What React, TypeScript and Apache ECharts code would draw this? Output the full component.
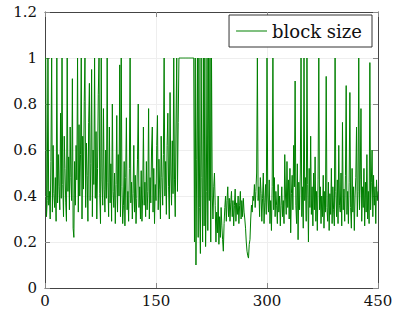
import React, { useEffect, useRef } from "react";
import * as echarts from "echarts";

const seriesName = "block size";
const xTicks = [0, 150, 300, 450];
const yTicks = [0, 0.2, 0.4, 0.6, 0.8, 1, 1.2];

// block size value at x = 0, 1, 2, ... 450
const blockSize = [
  1.0, 1.0, 0.31, 0.38, 1.0, 0.36, 0.42, 0.30, 0.55, 1.0,
  0.33, 0.62, 0.41, 0.35, 0.48, 0.29, 1.0, 0.37, 0.58, 0.44,
  0.34, 0.76, 0.39, 1.0, 0.45, 0.31, 0.66, 0.52, 0.37, 0.29,
  1.0, 0.42, 0.57, 0.34, 0.70, 0.48, 0.38, 0.91, 0.26, 0.22,
  0.55, 0.36, 0.62, 0.47, 1.0, 0.33, 0.71, 0.40, 0.58, 1.0,
  0.30, 0.66, 0.43, 0.81, 1.0, 0.35, 0.63, 0.49, 0.29, 0.72,
  0.89, 0.38, 0.54, 0.95, 0.31, 0.60, 0.45, 1.0, 0.39, 0.68,
  0.30, 0.52, 0.84, 1.0, 0.41, 0.28, 1.0, 0.47, 0.36, 0.78,
  0.43, 0.33, 0.60, 0.39, 1.0, 0.46, 0.31, 0.70, 0.37, 0.54,
  0.29, 0.80, 0.42, 0.35, 0.50, 0.28, 0.45, 0.75, 0.33, 0.58,
  0.40, 0.97, 0.31, 1.0, 0.44, 0.28, 0.36, 0.55, 0.27, 0.48,
  0.74, 0.34, 0.42, 0.29, 0.52, 1.0, 0.37, 0.46, 0.30, 0.41,
  0.62, 0.33, 0.49, 0.28, 0.39, 0.56, 0.80, 0.35, 0.44, 0.30,
  0.51, 0.29, 0.40, 0.70, 0.36, 0.46, 0.31, 0.55, 0.34, 0.42,
  0.78, 0.30, 0.48, 0.37, 0.60, 0.70, 0.33, 0.52, 0.28, 0.45,
  0.38, 0.62, 0.75, 0.34, 0.56, 0.43, 0.30, 0.66, 0.48, 0.36,
  0.58, 1.0, 0.40, 0.55, 0.32, 0.62, 0.76, 0.44, 0.30, 0.85,
  0.50, 0.36, 0.64, 0.41, 1.0, 0.47, 0.31, 0.70, 1.0, 0.42,
  0.72, 1.0, 1.0, 1.0, 1.0, 1.0, 1.0, 1.0, 1.0, 1.0,
  1.0, 1.0, 1.0, 1.0, 1.0, 1.0, 1.0, 1.0, 1.0, 1.0,
  1.0, 1.0, 0.20, 1.0, 0.10, 0.56, 1.0, 0.22, 1.0, 0.35,
  0.15, 1.0, 0.48, 0.20, 1.0, 0.27, 1.0, 0.18, 0.42, 1.0,
  0.25, 1.0, 0.38, 1.0, 0.20, 1.0, 0.40, 0.30, 0.44, 0.50,
  0.36, 0.20, 0.33, 0.24, 0.40, 0.19, 0.31, 0.22, 0.35, 0.27,
  0.21, 0.16, 0.28, 0.35, 0.40, 0.29, 0.38, 0.44, 0.31, 0.39,
  0.29, 0.37, 0.42, 0.31, 0.38, 0.27, 0.36, 0.43, 0.29, 0.37,
  0.32, 0.40, 0.28, 0.36, 0.42, 0.30, 0.38, 0.31, 0.39, 0.33,
  0.30, 0.26, 0.20, 0.16, 0.14, 0.13, 0.19, 0.21, 0.30, 0.36,
  0.33, 0.40, 0.38, 0.45, 0.35, 0.42, 0.50, 1.0, 0.38, 0.44,
  0.31, 0.48, 0.41, 0.29, 0.39, 0.50, 0.28, 0.37, 0.45, 0.32,
  1.0, 0.40, 0.33, 0.47, 0.28, 0.38, 0.25, 0.44, 1.0, 0.34,
  0.48, 0.31, 0.42, 0.36, 0.28, 0.45, 0.33, 0.40, 0.27, 0.36,
  0.44, 0.31, 0.38, 0.28, 0.58, 0.40, 0.32, 0.55, 0.35, 0.47,
  0.30, 0.52, 0.24, 0.41, 0.49, 0.34, 0.62, 0.44, 0.90, 0.36,
  0.28, 0.54, 0.21, 0.46, 0.34, 0.50, 1.0, 0.31, 0.44, 0.26,
  1.0, 0.38, 0.48, 0.29, 1.0, 0.45, 0.20, 0.52, 0.35, 0.66,
  0.32, 0.44, 0.27, 0.50, 0.34, 0.57, 0.29, 0.42, 0.25, 0.47,
  1.0, 0.34, 0.44, 0.28, 0.40, 0.31, 0.49, 0.26, 0.42, 0.33,
  0.92, 0.35, 0.29, 0.46, 0.25, 0.41, 0.32, 0.52, 0.28, 0.44,
  0.34, 0.27, 1.0, 0.42, 0.31, 0.47, 0.28, 0.62, 0.36, 0.33,
  0.50, 0.27, 0.72, 0.34, 0.43, 0.29, 0.49, 0.88, 0.32, 0.42,
  0.28, 0.46, 0.85, 0.35, 0.26, 0.52, 0.33, 0.44, 0.25, 0.40,
  0.48, 0.70, 0.31, 0.42, 1.0, 0.34, 0.47, 0.78, 0.29, 0.44,
  0.35, 0.52, 0.27, 0.46, 0.33, 0.58, 0.30, 0.42, 0.28, 0.98,
  0.34, 0.46, 0.60, 0.31, 0.49, 0.36, 0.44, 0.28, 0.47, 0.38,
  0.42,
];

const FONT = "DejaVu Serif";

export default function App() {
  const ref = useRef<HTMLDivElement>(null);
  useEffect(() => {
    if (!ref.current) return;
    const chart = echarts.init(ref.current, null, { renderer: "svg" });
    const points = blockSize.map((v, i) => [i, v]);
    const xMin = xTicks[0];
    const xMax = xTicks[xTicks.length - 1];
    const xInt = xTicks[1] - xTicks[0];
    const yMin = yTicks[0];
    const yMax = yTicks[yTicks.length - 1];
    const yInt = 0.2;
    const frame = { show: true, onZero: false, lineStyle: { color: "#444", width: 1 } };
    const tick = { show: true, inside: true, length: 5, lineStyle: { color: "#888", width: 1 } };
    chart.setOption({
      animation: false,
      textStyle: { fontFamily: FONT },
      grid: { left: 45, right: 20, top: 12, bottom: 24, containLabel: false },
      legend: {
        show: true,
        data: [{ name: seriesName, icon: "rect" }],
        right: 26,
        top: 15,
        itemWidth: 31,
        itemHeight: 1,
        padding: [7, 10, 7, 7],
        borderColor: "#333",
        borderWidth: 1,
        borderRadius: 0,
        backgroundColor: "#fff",
        textStyle: { fontFamily: FONT, fontSize: 18, color: "#111" },
      },
      xAxis: [
        {
          type: "value",
          min: xMin,
          max: xMax,
          interval: xInt,
          axisLine: frame,
          axisTick: tick,
          splitLine: { show: true, lineStyle: { color: "#eeeeee", width: 1 } },
          axisLabel: { fontFamily: FONT, fontSize: 15, color: "#111", margin: 5 },
        },
        {
          type: "value",
          position: "top",
          min: xMin,
          max: xMax,
          interval: xInt,
          axisLine: frame,
          axisTick: tick,
          splitLine: { show: false },
          axisLabel: { show: false },
        },
      ],
      yAxis: [
        {
          type: "value",
          min: yMin,
          max: yMax,
          interval: yInt,
          axisLine: frame,
          axisTick: tick,
          splitLine: { show: true, lineStyle: { color: "#eeeeee", width: 1 } },
          axisLabel: { fontFamily: FONT, fontSize: 15, color: "#111", margin: 8 },
        },
        {
          type: "value",
          position: "right",
          min: yMin,
          max: yMax,
          interval: yInt,
          axisLine: frame,
          axisTick: tick,
          splitLine: { show: false },
          axisLabel: { show: false },
        },
      ],
      series: [
        {
          name: seriesName,
          type: "line",
          data: points,
          showSymbol: false,
          symbol: "none",
          color: "#008000",
          lineStyle: { color: "#008000", width: 1 },
          xAxisIndex: 0,
          yAxisIndex: 0,
        },
      ],
    });
    return () => chart.dispose();
  }, []);
  return (
    <div
      ref={ref}
      style={{ position: "absolute", left: 0, top: 0, width: 398, height: 312, background: "#fff" }}
    />
  );
}
